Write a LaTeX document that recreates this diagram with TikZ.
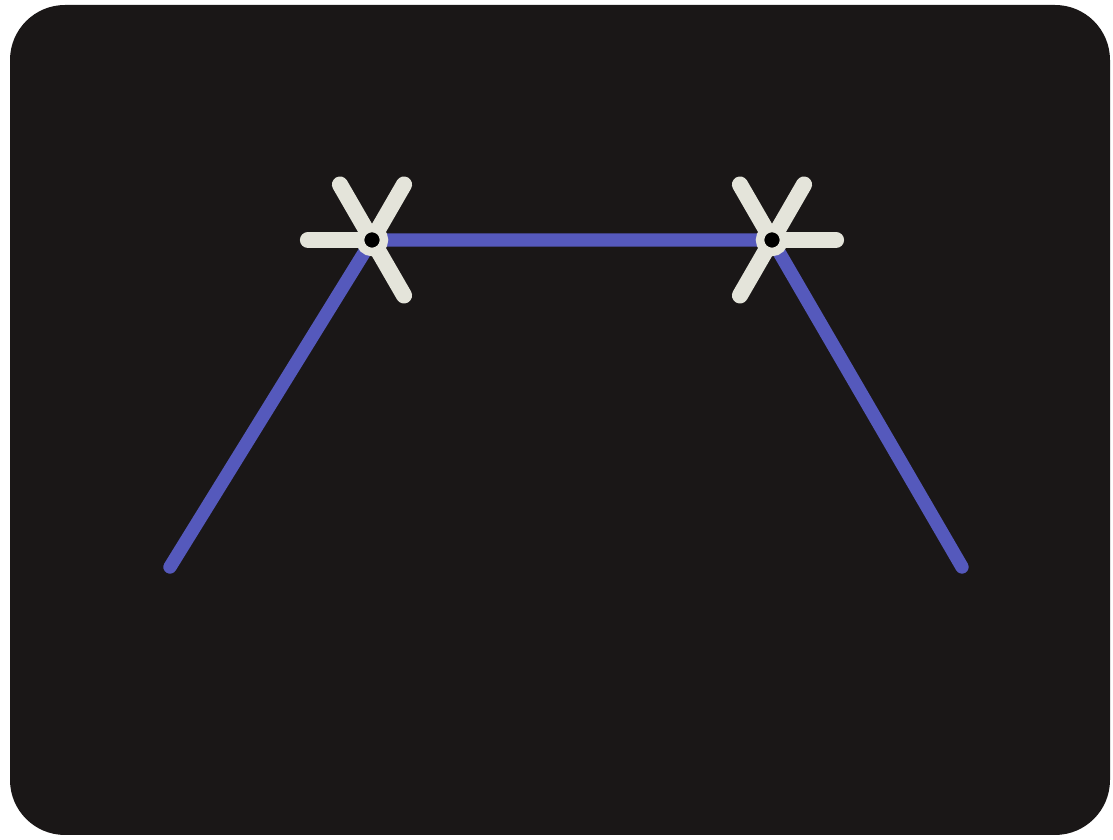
\documentclass[tikz,border=0pt]{standalone}
\usepackage{tikz}
\usetikzlibrary{positioning}
\definecolor{screen}{HTML}{1A1717}
\definecolor{bond}{HTML}{5559BC}
\definecolor{spoke}{HTML}{E4E4DA}

\begin{document}
\begin{tikzpicture}[line cap=round,
  bondline/.style={draw=bond, line width=3.8pt, line cap=round},
  spokeline/.style={draw=spoke, line width=4.6pt, line cap=round},
  hub/.style={circle, fill=black, draw=spoke, line width=2.4pt, inner sep=0pt, minimum size=2.4mm}]
\path[use as bounding box] (0,0) rectangle (11.13,8.40);
\fill[screen, rounded corners=0.55cm] (0.10,0.05) rectangle (11.10,8.35);
\coordinate (A) at (3.72,6.00);
\coordinate (B) at (7.72,6.00);
\coordinate (Aend) at (1.70,2.73);
\coordinate (Bend) at (9.62,2.73);
% blue bonds
\draw[bondline] (Aend) -- (A) -- (B) -- (Bend);
% spokes
\foreach \a in {60,120,180,300} \draw[spokeline] (A) -- ++(\a:0.64);
\foreach \a in {0,60,120,240} \draw[spokeline] (B) -- ++(\a:0.64);
\node[hub] (hubA) at (A) {};
\node[hub] (hubB) at (B) {};
\end{tikzpicture}
\end{document}
